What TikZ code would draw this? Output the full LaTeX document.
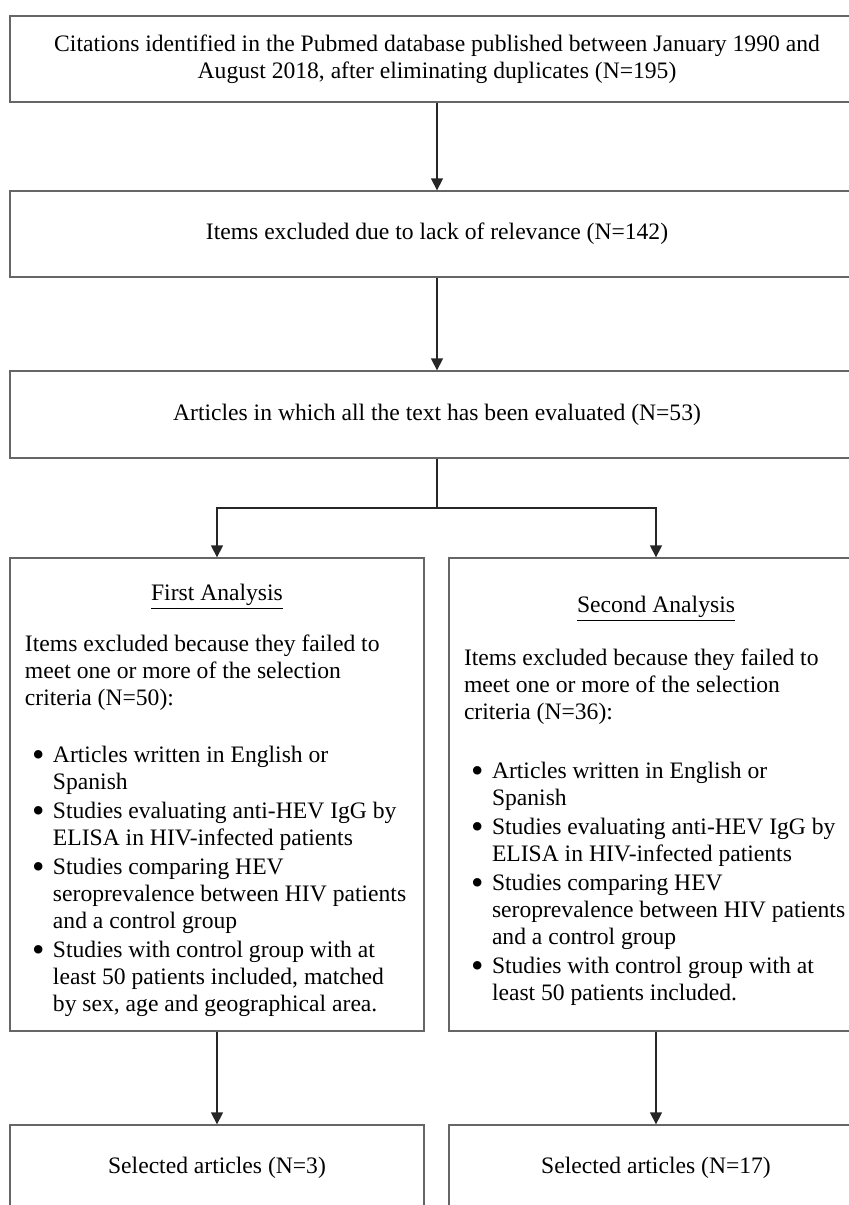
\documentclass[tikz,border=0pt]{standalone}
\usepackage{fontspec}
\setmainfont{Liberation Serif}
\usetikzlibrary{arrows.meta}
\newcommand{\critem}[1]{\par\vspace{1pt}\hangindent=14pt\hangafter=1\noindent\hspace*{3.5pt}\makebox[10.5pt][l]{\raisebox{-1.8pt}{\scalebox{1.5}{\textbullet}}}#1\par}
\newcommand{\plainleft}{\raggedright\spaceskip=0pt\xspaceskip=0pt\hyphenpenalty=10000\exhyphenpenalty=10000}
\tikzset{
  flowbox/.style={draw=black!60, line width=0.65pt, font=\fontsize{11.8pt}{13.5pt}\selectfont, inner xsep=7.5pt, inner ysep=0pt},
  arr/.style={draw=black!85, line width=0.65pt, -{Triangle[length=6pt,width=6pt]}},
}
\begin{document}
\begin{tikzpicture}[x=0.5pt, y=-0.5pt]
  \useasboundingbox (0,0) rectangle (849,1205);
  \clip (0,0) rectangle (849,1205);
  % 上段
  \node[flowbox, minimum width=427pt, minimum height=43pt, align=center] (cites) at (437,59)
    {Citations identified in the Pubmed database published between January 1990 and\\August 2018, after eliminating duplicates (N=195)};
  \node[flowbox, minimum width=427pt, minimum height=43pt] (screen) at (437,234)
    {Items excluded due to lack of relevance (N=142)};
  \node[flowbox, minimum width=427pt, minimum height=43.5pt] (fulltext) at (437,414.5)
    {Articles in which all the text has been evaluated (N=53)};
  % 二つの解析
  \node[flowbox, text width=192pt, minimum height=236.5pt] (first) at (217,794.5) {\plainleft
    {\centering\rule{0pt}{14.5pt}\underline{First Analysis}\par}
    \vspace{12pt}
    Items excluded because they failed to\newline meet one or more of the selection\newline criteria (N=50):\par
    \vspace{14pt}
    \critem{Articles written in English or\newline Spanish}
    \critem{Studies evaluating anti-HEV IgG by\newline ELISA in HIV-infected patients}
    \critem{Studies comparing HEV\newline seroprevalence between HIV patients\newline and a control group}
    \critem{Studies with control group with at\newline least 50 patients included, matched\newline by sex, age and geographical area.}
  };
  \node[flowbox, text width=192pt, minimum height=236.5pt] (second) at (656,794.5) {\plainleft
    {\centering\rule{0pt}{14.5pt}\underline{Second Analysis}\par}
    \vspace{13pt}
    Items excluded because they failed to\newline meet one or more of the selection\newline criteria (N=36):\par
    \vspace{15pt}
    \critem{Articles written in English or\newline Spanish}
    \critem{Studies evaluating anti-HEV IgG by\newline ELISA in HIV-infected patients}
    \critem{Studies comparing HEV\newline seroprevalence between HIV patients\newline and a control group}
    \critem{Studies with control group with at\newline least 50 patients included.}
  };
  % 下段
  \node[flowbox, minimum width=207pt, minimum height=43pt] (selA) at (217,1168) {Selected articles (N=3)};
  \node[flowbox, minimum width=207pt, minimum height=43pt] (selB) at (656,1168) {Selected articles (N=17)};
  % 矢印
  \coordinate (split) at (437,508);
  \draw[arr] (cites) -- (screen);
  \draw[arr] (screen) -- (fulltext);
  \draw[draw=black!85, line width=0.8pt] (fulltext) -- (split);
  \draw[arr] (split) -| (first);
  \draw[arr] (split) -| (second);
  \draw[arr] (first) -- (selA);
  \draw[arr] (second) -- (selB);
\end{tikzpicture}
\end{document}
